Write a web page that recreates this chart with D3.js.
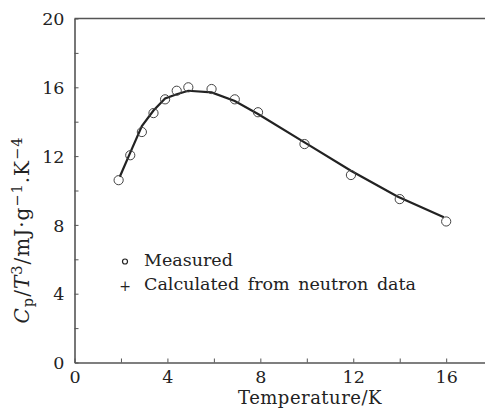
<html lang="en">
<head>
  <meta charset="utf-8">
  <title>Cp/T3 vs Temperature</title>
  <script src="https://cdnjs.cloudflare.com/ajax/libs/d3/7.8.5/d3.min.js"></script>
  <style>
    body { margin: 0; background: #fff; }
    svg text { font-family: 'DejaVu Serif', serif; fill: #222; }
  </style>
</head>
<body>
<svg id="chart" width="485" height="414"></svg>
<script>

// measured points (circles)
var measured_t = [1.9, 2.4, 2.9, 3.4, 3.9, 4.4, 4.9, 5.9, 6.9, 7.9, 9.9, 11.9, 14, 16];
var measured_c = [10.6, 12.05, 13.4, 14.5, 15.3, 15.8, 16.0, 15.9, 15.3, 14.55, 12.7, 10.9, 9.5, 8.2];

// calculated from neutron data (line)
var calc_t = [1.95, 2.4, 2.9, 3.4, 3.9, 4.4, 4.9, 5.9, 6.9, 7.9, 9.9, 11.9, 13.9, 15.9];
var calc_c = [10.8, 12.2, 13.75, 14.65, 15.35, 15.6, 15.8, 15.7, 15.2, 14.45, 12.8, 11.15, 9.65, 8.45];

var x_ticks = [0, 2, 4, 6, 8, 10, 12, 14, 16, 18];
var y_ticks = [0, 2, 4, 6, 8, 10, 12, 14, 16, 18, 20];

var svg = d3.select('#chart');
var left = 74.5, top_ = 18.5, bottom = 362.5;

var x = d3.scaleLinear().domain([0, 18]).range([left, left + 18*23.23]);
var y = d3.scaleLinear().domain([0, 20]).range([bottom, top_]);

/*******************************************************************************/
// axes

var axis_color = '#555';

var xAxis = svg.append('g').attr('transform', 'translate(0,' + bottom + ')')
  .call(d3.axisBottom(x).tickValues(x_ticks).tickSizeInner(-4).tickSizeOuter(0)
    .tickFormat(function(d){ return d % 4 == 0 ? d : ''; }).tickPadding(8));

var yAxis = svg.append('g').attr('transform', 'translate(' + left + ',0)')
  .call(d3.axisLeft(y).tickValues(y_ticks).tickSizeInner(-4).tickSizeOuter(0)
    .tickFormat(function(d){ return d % 4 == 0 ? d : ''; }).tickPadding(10));

svg.selectAll('.domain').attr('stroke', axis_color).attr('stroke-width', 1.6);
svg.selectAll('.tick line').attr('stroke', axis_color).attr('stroke-width', 1);
svg.selectAll('.tick text').style('font-size', '17.5px').attr('fill', '#222');
yAxis.selectAll('.tick text').attr('dy', '0.35em');

// top frame line
svg.append('line')
  .attr('x1', x(0)).attr('x2', x(18)).attr('y1', y(20)).attr('y2', y(20))
  .attr('stroke', axis_color).attr('stroke-width', 1.6);

/*******************************************************************************/
// data

var calc = calc_t.map(function(t, i){ return [t, calc_c[i]]; });
var line = d3.line().x(function(d){ return x(d[0]); }).y(function(d){ return y(d[1]); });

svg.append('path').datum(calc).attr('d', line)
  .attr('fill', 'none').attr('stroke', '#222').attr('stroke-width', 2.2);

svg.selectAll('.pt').data(measured_t).enter().append('circle').attr('class', 'pt')
  .attr('cx', function(d){ return x(d); })
  .attr('cy', function(d, i){ return y(measured_c[i]); })
  .attr('r', 4.6).attr('fill', 'none').attr('stroke', '#444').attr('stroke-width', 1);

/*******************************************************************************/
// legend

var lg = svg.append('g');
lg.append('circle').attr('cx', 125).attr('cy', 261.5).attr('r', 2.5)
  .attr('fill', 'none').attr('stroke', '#222').attr('stroke-width', 1.2);
lg.append('text').attr('x', 144).attr('y', 266).style('font-size', '17.5px')
  .style('word-spacing', '3px').text('Measured');
lg.append('text').attr('x', 125).attr('y', 291).attr('text-anchor', 'middle').style('font-size', '14px').text('+');
lg.append('text').attr('x', 144).attr('y', 290).style('font-size', '17.5px')
  .style('word-spacing', '3px').text('Calculated from neutron data');

/*******************************************************************************/
// axis labels

svg.append('text').attr('x', 310).attr('y', 404).attr('text-anchor', 'middle')
  .style('font-size', '18px').style('letter-spacing', '0.5px').text('Temperature/K');

var yl = svg.append('text').attr('transform', 'translate(29,230) rotate(-90)')
  .attr('text-anchor', 'middle').style('font-size', '20px').style('letter-spacing', '1px');
yl.append('tspan').style('font-style', 'italic').text('C');
yl.append('tspan').attr('baseline-shift', '-25%').style('font-size', '14.5px').text('p');
yl.append('tspan').text('/');
yl.append('tspan').style('font-style', 'italic').text('T');
yl.append('tspan').attr('baseline-shift', '45%').style('font-size', '14.5px').text('3');
yl.append('tspan').text('/mJ·g');
yl.append('tspan').attr('baseline-shift', '45%').style('font-size', '14.5px').text('−1');
yl.append('tspan').text('.K');
yl.append('tspan').attr('baseline-shift', '45%').style('font-size', '14.5px').text('−4');

</script>
</body>
</html>
